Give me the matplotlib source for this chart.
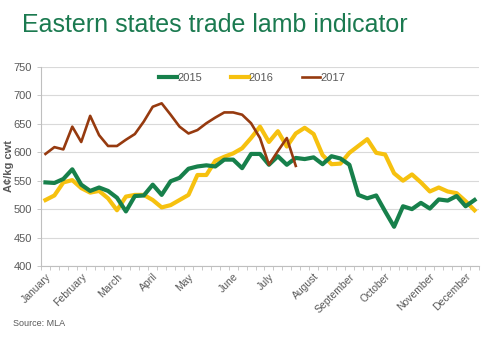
import matplotlib
matplotlib.use('Agg')
import matplotlib.pyplot as plt
import numpy as np

plt.rcParams['font.family'] = ['Liberation Sans', 'DejaVu Sans']

months = ['January', 'February', 'March', 'April', 'May', 'June', 'July',
          'August', 'September', 'October', 'November', 'December']
month_weeks = [0, 4, 8, 12, 16, 21, 25, 30, 34, 38, 43, 47]
n_weeks = 49

y2015 = [547, 546, 553, 570, 543, 532, 538, 532, 520, 496, 523, 524, 543, 525,
         549, 555, 571, 575, 577, 575, 587, 587, 572, 597, 597, 578, 593, 578,
         590, 588, 591, 579, 593, 589, 578, 525, 519, 524, 496, 469, 505, 500,
         511, 501, 517, 515, 523, 505, 516]
y2016 = [516, 524, 547, 551, 537, 529, 532, 519, 498, 522, 525, 525, 516, 503,
         507, 516, 525, 560, 560, 585, 592, 598, 607, 625, 645, 618, 637, 610,
         633, 643, 632, 595, 579, 580, 599, 611, 623, 599, 596, 563, 550, 561,
         547, 531, 538, 531, 528, 514, 498]
y2017 = [597, 609, 605, 645, 618, 664, 630, 611, 611, 622, 632, 654, 680, 686,
         666, 645, 633, 639, 651, 661, 670, 670, 666, 651, 625, 578, 602, 625,
         576]

grey = '#595959'
fig = plt.figure(figsize=(5, 3.45), dpi=100)
ax = fig.add_axes([0.082, 0.229, 0.876, 0.577])

ax.plot(np.arange(len(y2015)), y2015, color='#17804B', lw=3.0, label='2015',
        solid_joinstyle='round', zorder=3)
ax.plot(np.arange(len(y2016)), y2016, color='#F6C10F', lw=3.0, label='2016',
        solid_joinstyle='round', zorder=2)
ax.plot(np.arange(len(y2017)), y2017, color='#963A0F', lw=1.9, label='2017',
        solid_joinstyle='round', zorder=4)

ax.set_xlim(-0.5, n_weeks - 0.5)
ax.set_ylim(400, 750)
ax.set_yticks(np.arange(400, 751, 50))
ax.yaxis.grid(True, color='#d9d9d9', lw=0.8)
ax.set_axisbelow(True)

# weekly tick marks, month names at first week of each month
ax.set_xticks(np.arange(-0.5, n_weeks, 1.0))
ax.set_xticklabels([])
ax.tick_params(axis='x', length=3, color='#bfbfbf', width=0.6)
ax.set_xticks(month_weeks, minor=True)
ax.set_xticklabels(months, minor=True, rotation=45, ha='right',
                   rotation_mode='anchor', fontsize=7.5, color=grey)
ax.tick_params(axis='x', which='minor', length=0, pad=4)
ax.tick_params(axis='y', length=3, color='#bfbfbf', width=0.6,
               labelsize=8, labelcolor=grey)

for s in ['top', 'right']:
    ax.spines[s].set_visible(False)
for s in ['left', 'bottom']:
    ax.spines[s].set_color('#bfbfbf')
    ax.spines[s].set_linewidth(0.8)

ax.set_ylabel('A¢/kg cwt', fontsize=8, color=grey, fontweight='bold')
ax.yaxis.set_label_coords(-0.062, 0.5)

ax.legend(loc='upper center', bbox_to_anchor=(0.482, 1.02), ncol=3, frameon=False,
          fontsize=8, handlelength=1.6, handletextpad=0.0, columnspacing=2.6,
          labelcolor=grey)

fig.text(0.044, 0.928, 'Eastern states trade lamb indicator', fontsize=18,
         color='#1B7A50', va='center', ha='left')
fig.text(0.026, 0.063, 'Source: MLA', fontsize=6.5, color=grey, va='center')

fig.savefig('out.png', dpi=100)
